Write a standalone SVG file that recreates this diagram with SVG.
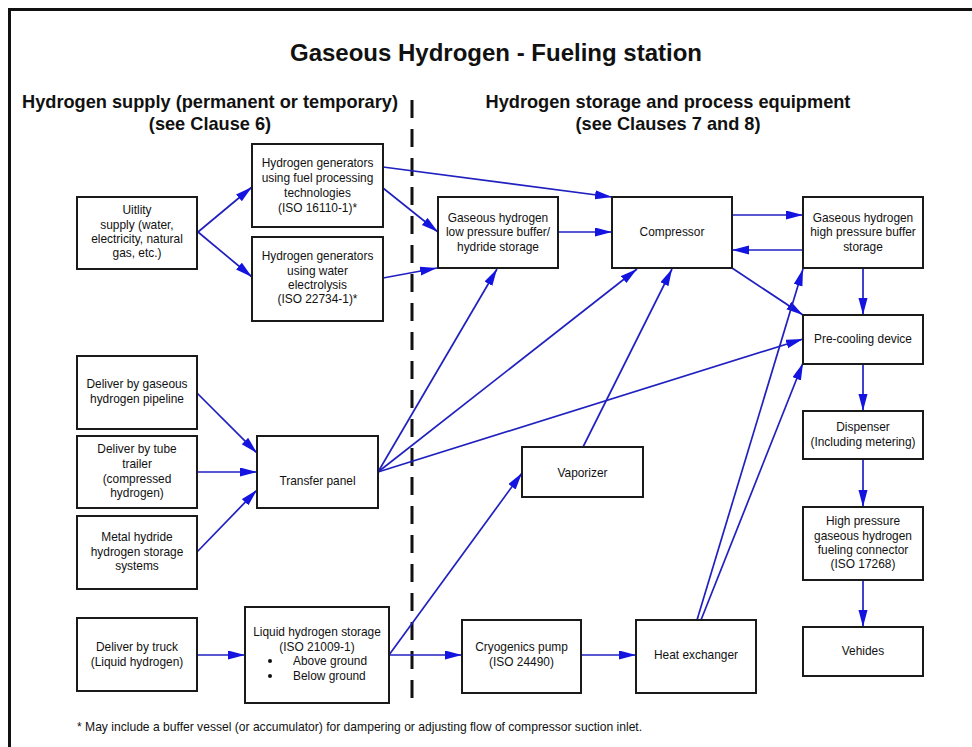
<svg xmlns="http://www.w3.org/2000/svg" width="972" height="747" viewBox="0 0 972 747">
<defs>
<marker id="ah" markerUnits="userSpaceOnUse" markerWidth="18" markerHeight="10" refX="17" refY="4.5" orient="auto">
<path d="M0,0 L17,4.5 L0,9 z" fill="#1414e0"/>
</marker>
</defs>
<style>
.b{fill:#fff;stroke:#1a1a1a;stroke-width:2}
.t{font-family:"Liberation Sans",Arial,sans-serif;font-size:11.9px;fill:#111;text-anchor:middle}
.s{text-anchor:start}
.h{font-family:"Liberation Sans",Arial,sans-serif;font-weight:bold;fill:#111;text-anchor:middle}
.c line{stroke:#2020c0;stroke-width:1.7;fill:none;marker-end:url(#ah)}
</style>
<rect x="0" y="0" width="972" height="747" fill="#fff"/>
<path d="M9.5,750 V9.5 H975" fill="none" stroke="#111" stroke-width="3"/>
<text class="h" x="496" y="61" font-size="24">Gaseous Hydrogen - Fueling station</text>
<text class="h" x="210" y="108" font-size="18.2">Hydrogen supply (permanent or temporary)</text>
<text class="h" x="210" y="130" font-size="18.2">(see Clause 6)</text>
<text class="h" x="668" y="108" font-size="18.2">Hydrogen storage and process equipment</text>
<text class="h" x="668" y="130" font-size="18.2">(see Clauses 7 and 8)</text>
<line x1="412" y1="100" x2="412" y2="704" stroke="#111" stroke-width="3" stroke-dasharray="18 11"/>

<g id="connectors" class="c">
<line x1="198" y1="232" x2="252" y2="187"/>
<line x1="198" y1="232" x2="252" y2="277"/>
<line x1="383" y1="167" x2="612" y2="197"/>
<line x1="383" y1="188" x2="438" y2="232"/>
<line x1="383" y1="278" x2="437" y2="268"/>
<line x1="558" y1="232" x2="612" y2="232"/>
<line x1="732" y1="215" x2="803" y2="215"/>
<line x1="803" y1="250" x2="732" y2="250"/>
<line x1="732" y1="268" x2="803" y2="315"/>
<line x1="863" y1="268" x2="863" y2="315"/>
<line x1="863" y1="364" x2="863" y2="411"/>
<line x1="863" y1="459" x2="863" y2="507"/>
<line x1="863" y1="580" x2="863" y2="627"/>
<line x1="197" y1="393" x2="257" y2="453"/>
<line x1="197" y1="472" x2="257" y2="472"/>
<line x1="197" y1="552" x2="257" y2="490"/>
<line x1="378" y1="472" x2="497" y2="269"/>
<line x1="378" y1="472" x2="637" y2="269"/>
<line x1="378" y1="472" x2="803" y2="339"/>
<line x1="583" y1="447" x2="672" y2="269"/>
<line x1="389" y1="655" x2="522" y2="473"/>
<line x1="389" y1="655" x2="462" y2="655"/>
<line x1="197" y1="655" x2="245" y2="655"/>
<line x1="580" y1="655" x2="636" y2="655"/>
<line x1="697" y1="620" x2="803" y2="269"/>
<line x1="701" y1="620" x2="803" y2="363"/>
</g>

<g id="utility"><rect class="b" x="77" y="197" width="120" height="72"/>
<text class="t" x="137" y="214">Uitlity</text><text class="t" x="137" y="229">supply (water,</text><text class="t" x="137" y="243">electricity, natural</text><text class="t" x="137" y="257">gas, etc.)</text></g>

<g id="gen-fuel"><rect class="b" x="252" y="144" width="131" height="83"/>
<text class="t" x="317.5" y="167">Hydrogen generators</text><text class="t" x="317.5" y="182">using fuel processing</text><text class="t" x="317.5" y="197">technologies</text><text class="t" x="317.5" y="212">(ISO 16110-1)*</text></g>

<g id="gen-elec"><rect class="b" x="252" y="237" width="131" height="84"/>
<text class="t" x="317.5" y="260">Hydrogen generators</text><text class="t" x="317.5" y="275">using water</text><text class="t" x="317.5" y="289">electrolysis</text><text class="t" x="317.5" y="303">(ISO 22734-1)*</text></g>

<g id="lp-buffer"><rect class="b" x="438" y="197" width="120" height="71"/>
<text class="t" x="498" y="222">Gaseous hydrogen</text><text class="t" x="498" y="236">low pressure buffer/</text><text class="t" x="498" y="251">hydride storage</text></g>

<g id="compressor"><rect class="b" x="612" y="197" width="120" height="71"/>
<text class="t" x="672" y="236">Compressor</text></g>

<g id="hp-buffer"><rect class="b" x="803" y="197" width="120" height="71"/>
<text class="t" x="863" y="222">Gaseous hydrogen</text><text class="t" x="863" y="236">high pressure buffer</text><text class="t" x="863" y="251">storage</text></g>

<g id="precooling"><rect class="b" x="803" y="315" width="120" height="49"/>
<text class="t" x="863" y="343">Pre-cooling device</text></g>

<g id="dispenser"><rect class="b" x="803" y="411" width="120" height="48"/>
<text class="t" x="863" y="431">Dispenser</text><text class="t" x="863" y="446">(Including metering)</text></g>

<g id="connector"><rect class="b" x="803" y="507" width="120" height="73"/>
<text class="t" x="863" y="525">High pressure</text><text class="t" x="863" y="540">gaseous hydrogen</text><text class="t" x="863" y="554">fueling connector</text><text class="t" x="863" y="568">(ISO 17268)</text></g>

<g id="vehicles"><rect class="b" x="803" y="627" width="120" height="49"/>
<text class="t" x="863" y="655">Vehides</text></g>

<g id="pipeline"><rect class="b" x="77" y="356" width="120" height="73"/>
<text class="t" x="137" y="388">Deliver by gaseous</text><text class="t" x="137" y="403">hydrogen pipeline</text></g>

<g id="tube-trailer"><rect class="b" x="77" y="436" width="120" height="72"/>
<text class="t" x="137" y="453">Deliver by tube</text><text class="t" x="137" y="468">trailer</text><text class="t" x="137" y="483">(compressed</text><text class="t" x="137" y="497">hydrogen)</text></g>

<g id="metal-hydride"><rect class="b" x="77" y="516" width="120" height="73"/>
<text class="t" x="137" y="541">Metal hydride</text><text class="t" x="137" y="556">hydrogen storage</text><text class="t" x="137" y="570">systems</text></g>

<g id="transfer-panel"><rect class="b" x="257" y="436" width="121" height="72"/>
<text class="t" x="317.5" y="485">Transfer panel</text></g>

<g id="vaporizer"><rect class="b" x="522" y="447" width="121" height="50"/>
<text class="t" x="582.5" y="477">Vaporizer</text></g>

<g id="truck"><rect class="b" x="77" y="618" width="120" height="73"/>
<text class="t" x="137" y="651">Deliver by truck</text><text class="t" x="137" y="666">(Liquid hydrogen)</text></g>

<g id="liquid-storage"><rect class="b" x="245" y="607" width="144" height="96"/>
<text class="t" x="317" y="636">Liquid hydrogen storage</text><text class="t" x="317" y="651">(ISO 21009-1)</text>
<circle cx="270" cy="661" r="2" fill="#111"/><circle cx="270" cy="676" r="2" fill="#111"/>
<text class="t s" x="293" y="665">Above ground</text><text class="t s" x="293" y="680">Below ground</text></g>

<g id="cryo-pump"><rect class="b" x="462" y="620" width="119" height="73"/>
<text class="t" x="521.5" y="651">Cryogenics pump</text><text class="t" x="521.5" y="666">(ISO 24490)</text></g>

<g id="heat-exchanger"><rect class="b" x="636" y="620" width="120" height="73"/>
<text class="t" x="696" y="659">Heat exchanger</text></g>

<text x="77" y="731" font-family="Liberation Sans, Arial, sans-serif" font-size="12.1" fill="#111">* May include a buffer vessel (or accumulator) for dampering or adjusting flow of compressor suction inlet.</text>
</svg>
